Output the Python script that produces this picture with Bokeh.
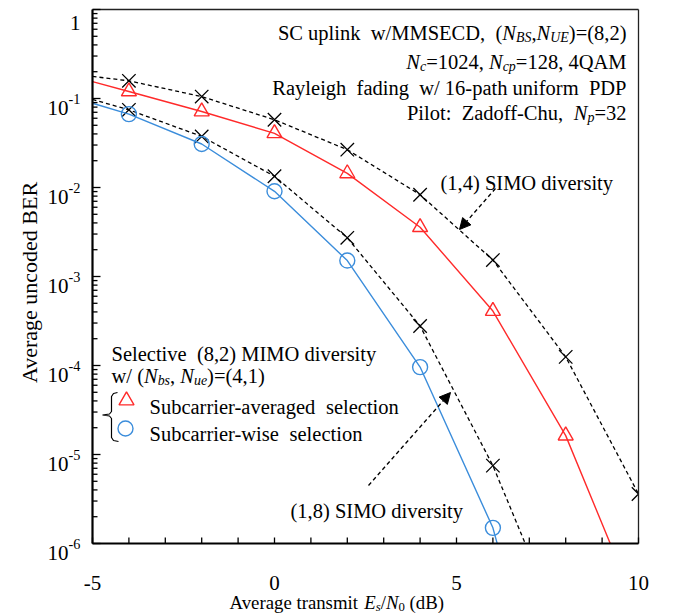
import math
from bokeh.plotting import figure
from bokeh.models import Range1d, Label, Arrow, NormalHead, BoxAnnotation
from bokeh.embed import file_html
from bokeh.resources import INLINE

# ---------------- data ----------------
snr_simo14 = [-5, -4, -2, 0, 2, 4, 6, 8, 10]
ber_simo14 = [0.177, 0.158, 0.105, 0.0577, 0.0266, 0.0083, 1.53e-3, 1.25e-4, 3.6e-6]

snr_avg = [-5, -4, -2, 0, 2, 4, 6, 8, 10]
ber_avg = [0.155, 0.120, 0.0714, 0.0406, 0.0144, 3.58e-3, 4.09e-4, 1.63e-5, 1.7e-7]

snr_simo18 = [-5, -4, -2, 0, 2, 4, 6, 8]
ber_simo18 = [0.0975, 0.0746, 0.0375, 0.01337, 2.72e-3, 2.78e-4, 7.5e-6, 8e-8]

snr_wise = [-5, -4, -2, 0, 2, 4, 6, 7]
ber_wise = [0.0885, 0.0667, 0.0308, 9.06e-3, 1.51e-3, 9.6e-5, 1.5e-6, 4.8e-8]

x_tick_values = [-5, 0, 5, 10]
x_tick_labels = ["-5", "0", "5", "10"]
x_minor_values = [-4, -3, -2, -1, 1, 2, 3, 4, 6, 7, 8, 9]
y_decades = [0, -1, -2, -3, -4, -5, -6]

FONT = "Liberation Serif"
RED = "#ff2a2a"
BLUE = "#3b8ddb"

# ---------------- layout ----------------
# data box in page pixels; canvas placed at page (OX, OY)
FL, FT, FR, FB = 92.0, 9.0, 638.0, 543.0
OX, OY = 0.0, 0.0
CW, CH = 660, 614
X0, X1 = -5.0, 10.0
LY0, LY1 = -6.0, 0.0
kx = (FR - FL) / (X1 - X0)
ky = (FB - FT) / (LY1 - LY0)
xr = Range1d(X0 - (FL - OX) / kx, X1 + (OX + CW - FR) / kx)
yr = Range1d(10 ** (LY0 - (OY + CH - FB) / ky), 10 ** (LY1 + (FT - OY) / ky))

p = figure(width=CW, height=CH, min_border=0, x_range=xr, y_range=yr,
           y_axis_type="log", x_axis_location=None, y_axis_location=None,
           output_backend="svg", toolbar_location=None)
p.grid.visible = False
p.outline_line_color = None
p.background_fill_color = "white"
p.border_fill_color = "white"

# ---------------- helpers ----------------
REG = {' ': 250, '(': 333, ')': 333, ',': 250, '-': 333, '.': 250, '/': 278, ':': 278, '=': 564,
       'A': 722, 'B': 667, 'C': 667, 'D': 722, 'E': 611, 'F': 556, 'G': 722, 'H': 722, 'I': 333,
       'M': 889, 'N': 722, 'O': 722, 'P': 556, 'Q': 722, 'R': 667, 'S': 556, 'T': 611, 'U': 722,
       'Z': 611, 'a': 444, 'b': 500, 'c': 444, 'd': 500, 'e': 444, 'f': 333, 'g': 500, 'h': 500,
       'i': 278, 'k': 500, 'l': 278, 'm': 778, 'n': 500, 'o': 500, 'p': 500, 'r': 333, 's': 389,
       't': 278, 'u': 500, 'v': 500, 'w': 722, 'x': 500, 'y': 500, 'z': 444}
for d in "0123456789":
    REG[d] = 500
ITA = dict(REG)
ITA.update({'N': 667, 'B': 611, 'S': 500, 'U': 722, 'E': 611})


def tw(s, size, italic=False):
    tab = ITA if italic else REG
    return sum(tab.get(ch, 500) for ch in s) * size / 1000.0


def px2data(px, py):
    return X0 + (px - FL) / kx, 10 ** (LY1 - (py - FT) / ky)


def add_runs(runs, px, py, size=20.5, align="left", anchor=None):
    """runs: (text, style) with style n / i / sub / isub / sup.
    px, py: page pixels of the start (baseline); with anchor=(x, y) data they are offsets."""
    if anchor is None:
        anchor = (X0, 10 ** LY1)
        px, py = px - FL, py - FT
    pieces = []
    total = 0.0
    for t, st in runs:
        italic = st in ("i", "isub")
        small = st in ("sub", "isub", "sup")
        fs = size * (0.68 if small else 1.0)
        dy = {"sub": 0.22 * size, "isub": 0.22 * size, "sup": -0.42 * size}.get(st, 0.0)
        parts = t.split("  ")
        for k, part in enumerate(parts):
            lead = len(part) - len(part.lstrip(" "))
            total += tw(" " * lead, fs, italic)
            core = part.strip(" ")
            if core:
                pieces.append((core, italic, fs, dy, total))
            total += tw(part.lstrip(" "), fs, italic)
            if k < len(parts) - 1:
                total += tw("  ", fs, italic)
    start = {"right": px - total, "center": px - total / 2}.get(align, px)
    for t, italic, fs, dy, off in pieces:
        p.add_layout(Label(x=anchor[0], y=anchor[1], x_offset=start + off, y_offset=-(py + dy),
                           text=t, text_font=FONT, text_font_size=f"{fs:.1f}px",
                           text_font_style="italic" if italic else "normal",
                           text_baseline="alphabetic", text_align="left",
                           text_color="black", level="overlay"))


# ---------------- data series ----------------
p.line(snr_simo14, ber_simo14, line_color="black", line_dash="4 3", line_width=1.3)
p.scatter(snr_simo14[1:], ber_simo14[1:], marker="x", size=19, line_color="black", line_width=1.3)

p.line(snr_avg, ber_avg, line_color=RED, line_width=1.4)
p.scatter(snr_avg[1:], ber_avg[1:], marker="triangle", size=15, line_color=RED,
          fill_color=None, line_width=1.4)

p.line(snr_simo18, ber_simo18, line_color="black", line_dash="4 3", line_width=1.3)
p.scatter(snr_simo18[1:], ber_simo18[1:], marker="x", size=19, line_color="black", line_width=1.3)

p.line(snr_wise, ber_wise, line_color=BLUE, line_width=1.4)
wx = [x for x in snr_wise[1:] if x % 2 == 0]
wy = [y for x, y in zip(snr_wise[1:], ber_wise[1:]) if x % 2 == 0]
p.scatter(wx, wy, marker="circle", size=15, line_color=BLUE, fill_color=None, line_width=1.4)

# mask everything outside the data box (lines running below 1e-6)
p.add_layout(BoxAnnotation(top=10 ** LY0, fill_color="white", fill_alpha=1.0, line_alpha=0,
                           level="annotation"))
p.add_layout(BoxAnnotation(left=X1, fill_color="white", fill_alpha=1.0, line_alpha=0,
                           level="annotation"))

# ---------------- axes: box, ticks ----------------
p.segment(x0=[X0, X1], y0=[10 ** LY1, 10 ** LY0], x1=[X1, X1], y1=[10 ** LY1, 10 ** LY1],
          line_color="#222222", line_width=1.3, level="overlay")
p.segment(x0=[X0, X0], y0=[10 ** LY0, 10 ** LY0], x1=[X0, X1], y1=[10 ** LY1, 10 ** LY0],
          line_color="black", line_width=2.2, level="overlay")

p.ray(x=x_tick_values + x_minor_values, y=[10 ** LY0] * (len(x_tick_values) + len(x_minor_values)),
      length=6, length_units="screen", angle=math.pi / 2, line_color="black", line_width=1.3,
      level="overlay")
y_major = [10.0 ** k for k in y_decades]
y_minor = [m * 10.0 ** k for k in y_decades[1:] for m in range(2, 10)]
p.ray(x=[X0] * len(y_major), y=y_major, length=8, length_units="screen", angle=0,
      line_color="black", line_width=1.3, level="overlay")
p.ray(x=[X0] * len(y_minor), y=y_minor, length=5, length_units="screen", angle=0,
      line_color="black", line_width=1.3, level="overlay")

# ---------------- tick labels ----------------
for v, lab in zip(x_tick_values, x_tick_labels):
    add_runs([(lab, "n")], 0, 39, size=21, align="center", anchor=(v, 10 ** LY0))
for k in y_decades:
    if k == 0:
        add_runs([("1", "n")], -12, 13, size=21, align="right", anchor=(X0, 10.0 ** k))
    else:
        add_runs([("10", "n"), (str(k), "sup")], -12, 9, size=21, align="right",
                 anchor=(X0, 10.0 ** k))

# ---------------- axis titles ----------------
p.add_layout(Label(x=X0, y=10 ** LY1, x_offset=29 - FL, y_offset=-(282 - FT),
                   text="Average uncoded BER", text_font=FONT, text_font_size="22px",
                   angle=math.pi / 2, text_align="center", text_baseline="middle",
                   text_color="black", level="overlay"))
add_runs([("Average transmit ", "n"), ("E", "i"), ("s", "isub"), ("/", "n"), ("N", "i"),
          ("0", "sub"), (" (dB)", "n")], 229, 602, size=18.8)

# ---------------- info box ----------------
add_runs([("SC uplink  w/MMSECD,  (", "n"), ("N", "i"), ("BS", "isub"), (",", "n"), ("N", "i"),
          ("UE", "isub"), (")=(8,2)", "n")], 626, 32, align="right")
add_runs([("N", "i"), ("c", "isub"), ("=1024, ", "n"), ("N", "i"), ("cp", "isub"),
          ("=128, 4QAM", "n")], 626, 61, align="right")
add_runs([("Rayleigh  fading  w/ 16-path uniform  PDP", "n")], 626, 87, align="right")
add_runs([("Pilot:  Zadoff-Chu,  ", "n"), ("N", "i"), ("p", "isub"), ("=32", "n")], 626, 112,
         align="right")

# ---------------- legend block ----------------
add_runs([("Selective  (8,2) MIMO diversity", "n")], 111, 353)
add_runs([("w/ (", "n"), ("N", "i"), ("bs", "isub"), (", ", "n"), ("N", "i"), ("ue", "isub"),
          (")=(4,1)", "n")], 111, 375.5)
add_runs([("Subcarrier-averaged  selection", "n")], 149, 406.5)
add_runs([("Subcarrier-wise  selection", "n")], 149, 433.5)

tx, ty = px2data(126, 400)
p.scatter([tx], [ty], marker="triangle", size=15, line_color=RED, fill_color=None, line_width=1.4)
cx, cy = px2data(125, 428)
p.scatter([cx], [cy], marker="circle", size=15, line_color=BLUE, fill_color=None, line_width=1.4)

brace_px = [(117, 392), (113, 393), (111, 396), (111, 411), (109, 413.5), (102, 414.5),
            (109, 415.5), (111, 418), (111, 437), (113, 440), (118, 441)]
bx, by = zip(*[px2data(a, b) for a, b in brace_px])
p.line(list(bx), list(by), line_color="black", line_width=1.2)

# ---------------- annotations ----------------
add_runs([("(1,4) SIMO diversity", "n")], 440, 182)
add_runs([("(1,8) SIMO diversity", "n")], 290, 510)

for (sx, sy), (ex, ey) in [((495, 188), (459, 229)), ((368, 485), (450, 392))]:
    x0, y0 = px2data(sx, sy)
    x1, y1 = px2data(ex, ey)
    p.add_layout(Arrow(end=NormalHead(size=11, fill_color="black", line_color="black"),
                       x_start=x0, y_start=y0, x_end=x1, y_end=y1,
                       line_color="black", line_width=1.3, line_dash="4 3"))

open("out.html", "w").write(file_html(p, INLINE))
